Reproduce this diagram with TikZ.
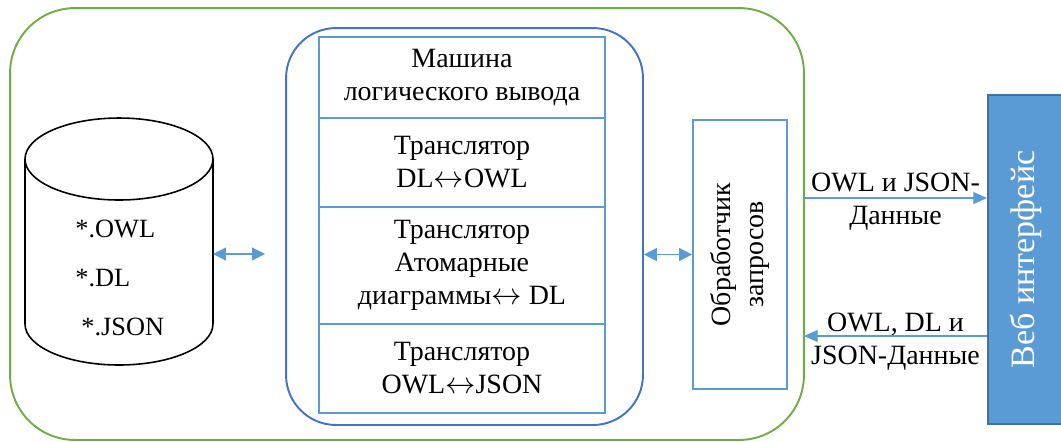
\documentclass[tikz,border=0pt]{standalone}
\usepackage{fontspec}
\setmainfont{Liberation Serif}
\usetikzlibrary{arrows.meta, positioning}

\definecolor{grn}{HTML}{70AD47}
\definecolor{dblue}{HTML}{4472C4}
\definecolor{lblue}{HTML}{5B9BD5}
\definecolor{edgeblue}{HTML}{41719C}

\tikzset{
  txt/.style={font=\fontsize{15.9}{18.8}\selectfont, align=center, text=black},
  layer/.style={txt, draw=lblue, line width=1.1pt, minimum width=5.72cm, inner sep=0pt, outer sep=0pt},
  link/.style={lblue, line width=0.7pt, {Triangle[length=7.4pt,width=7.4pt]}-{Triangle[length=7.4pt,width=7.4pt]}},
  flow/.style={lblue, line width=0.7pt, -{Triangle[length=7.8pt,width=6.8pt]}},
}

\begin{document}
\begin{tikzpicture}[x=0.02cm, y=0.02cm]
\useasboundingbox (0,0) rectangle (1061,-441);

\node [draw=grn, line width=1.1pt, rounded corners=1.3cm, minimum width=15.88cm, minimum height=8.64cm] (outer) at (407,-224) {};
\node [draw=dblue, line width=1.1pt, rounded corners=1cm, minimum width=7.14cm, minimum height=7.94cm] (engine) at (464.5,-226.5) {};

% database
\draw [line width=0.9pt] (119,-159) ellipse [x radius=1.88cm, y radius=0.82cm];
\draw [line width=0.9pt] (25,-159) -- (25,-324) arc [start angle=180, end angle=360, x radius=1.88cm, y radius=0.82cm] -- (213,-159);
\node [minimum width=3.76cm, inner sep=0pt, outer sep=0pt] (db) at (119,-254) {};
\node [anchor=west, font=\fontsize{15}{18}\selectfont, inner sep=0pt] (owl) at (75,-229) {*.OWL};
\node [anchor=west, font=\fontsize{15}{18}\selectfont, inner sep=0pt] (dl) at (75,-278) {*.DL};
\node [anchor=west, font=\fontsize{15}{18}\selectfont, inner sep=0pt] (json) at (81,-327) {*.JSON};

\node [layer, minimum height=1.62cm] (reasoner) at (462,-77.5) {Машина\\логического вывода};
\node [layer, minimum height=1.78cm, below=0pt of reasoner] (dlowl) {Транслятор\\DL$\leftrightarrow$OWL};
\node [layer, minimum height=2.34cm, below=0pt of dlowl] (atomdl) {Транслятор\\Атомарные\\диаграммы$\leftrightarrow$ DL};
\node [layer, minimum height=1.78cm, below=0pt of atomdl] (owljson) {Транслятор\\OWL$\leftrightarrow$JSON};

\node [txt, draw=lblue, line width=1.1pt, rotate=90, minimum width=5.38cm, minimum height=1.88cm] (handler) at (740,-254.5) {Обработчик\\запросов};

\node [draw=edgeblue, fill=lblue, line width=1.1pt, rotate=90, minimum width=6.58cm, minimum height=1.52cm, text=white, font=\fontsize{19.4}{22}\selectfont] (web) at (1026,-259.5) {Веб интерфейс};

\coordinate (lport) at (265,-254);
\draw [link] (db.east) -- (lport);
\draw [link] (handler.north -| engine.east) -- (handler.north);

\coordinate (out1) at (804,-198);
\coordinate (in1) at (804,-336);
\draw [flow] (out1) -- (out1 -| web.north) node [txt, midway, yshift=-0.08cm] {OWL и JSON-\\Данные};
\draw [flow] (in1 -| web.north) -- (in1) node [txt, midway, yshift=-0.11cm] {OWL, DL и\\JSON-Данные};
\end{tikzpicture}
\end{document}
